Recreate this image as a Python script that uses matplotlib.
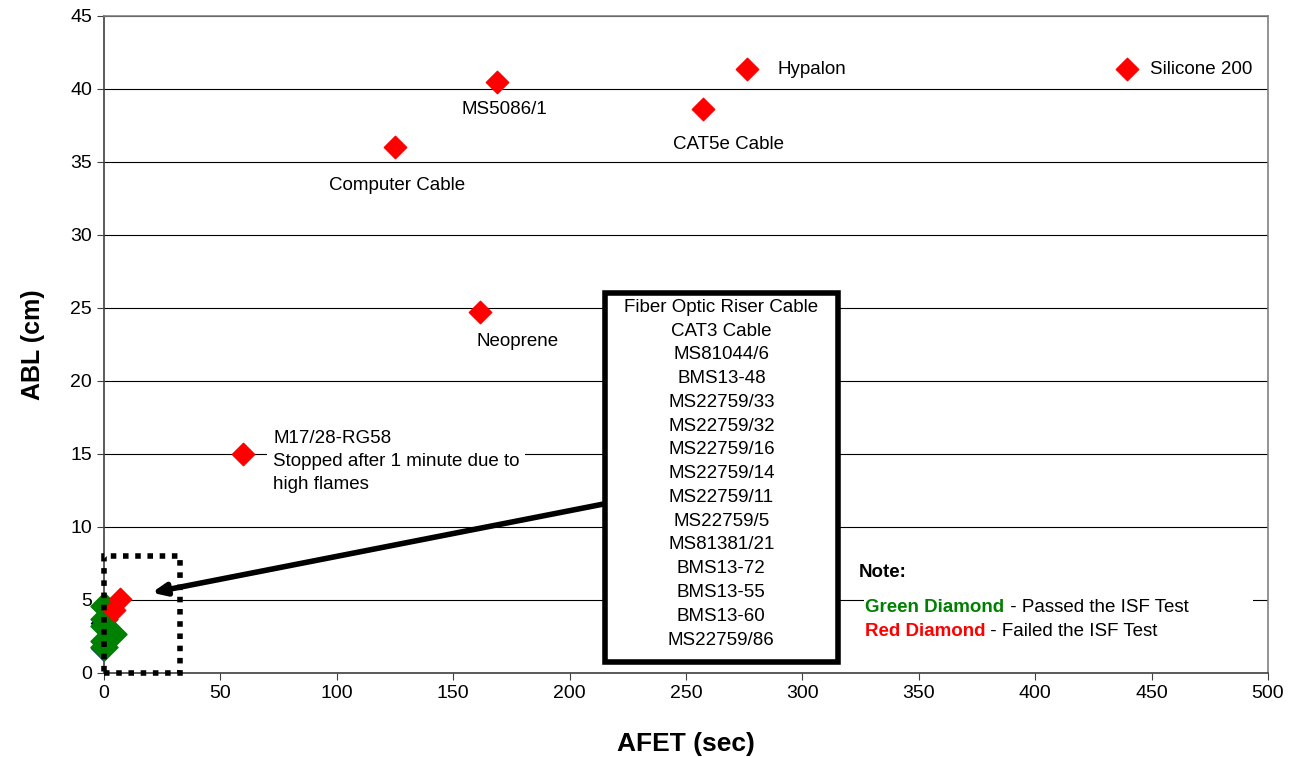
import matplotlib.pyplot as plt
from matplotlib.patches import Rectangle

plt.rcParams['font.family'] = ['Liberation Sans', 'DejaVu Sans']

# failed materials (red), with their labels
failed_x = [439.4, 276.2, 168.8, 257.3, 125.0, 161.5, 59.7, 6.8, 4.5]
failed_y = [41.4, 41.4, 40.5, 38.6, 36.0, 24.7, 15.0, 5.1, 4.3]

# passed materials (green), all clustered near the origin
passed_x = [0.0, 0.0, 0.0, 4.0, 0.0, 0.0]
passed_y = [4.6, 3.7, 3.2, 2.7, 2.2, 1.8]

# underlying series hidden behind the green points
base_x = [-0.5, 0.0, -0.5]
base_y = [3.4, 2.1, 1.7]

labels = ['Silicone 200', 'Hypalon', 'MS5086/1', 'CAT5e Cable', 'Computer Cable',
          'Neoprene', 'M17/28-RG58\nStopped after 1 minute due to\nhigh flames']
label_x = [449.3, 289.1, 153.4, 244.4, 96.6, 159.8, 72.6]
label_y = [41.3, 41.3, 38.6, 36.2, 33.4, 22.7, 14.5]

passed_list = ['Fiber Optic Riser Cable', 'CAT3 Cable', 'MS81044/6', 'BMS13-48',
               'MS22759/33', 'MS22759/32', 'MS22759/16', 'MS22759/14',
               'MS22759/11', 'MS22759/5', 'MS81381/21', 'BMS13-72',
               'BMS13-55', 'BMS13-60', 'MS22759/86']

fig = plt.figure(figsize=(12.92, 7.57), dpi=100)
ax = fig.add_axes([0.0805, 0.111, 0.9009, 0.8679])

ax.set_xlim(0, 500)
ax.set_ylim(0, 45)
ax.set_xticks(range(0, 501, 50))
ax.set_yticks(range(0, 46, 5))
ax.yaxis.grid(True, color='black', linewidth=0.8, zorder=0)
ax.set_axisbelow(True)
for s in ax.spines.values():
    s.set_color('#808080')
    s.set_linewidth(1.2)
ax.spines['left'].set_color('#404040')
ax.spines['bottom'].set_color('#404040')
ax.tick_params(axis='both', labelsize=14, direction='out', length=5, color='#404040')

ax.set_xlabel('AFET (sec)', fontsize=19, fontweight='bold', labelpad=22)
ax.set_ylabel('ABL (cm)', fontsize=18, fontweight='bold', labelpad=18)

ax.scatter(base_x, base_y, marker='D', s=150, color='#000080', zorder=3, clip_on=False)
ax.scatter(passed_x, passed_y, marker='D', s=190, color='#008000', zorder=4, clip_on=False)
ax.scatter(failed_x, failed_y, marker='D', s=130, color='#ff0000', zorder=5, clip_on=False)

for t, x, y in zip(labels, label_x, label_y):
    ax.text(x, y, t, fontsize=13.5, ha='left', va='center', zorder=6,
            linespacing=1.45,
            bbox=dict(facecolor='white', edgecolor='none', pad=4))

# dotted box around the cluster of small values
ax.add_patch(Rectangle((0, 0), 32.5, 8, fill=False, edgecolor='black',
                       linestyle=(0, (1, 1.2)), linewidth=4, zorder=7, clip_on=False))

# list of materials that passed, pointing at the cluster
ax.annotate('', xy=(20.5, 5.5), xytext=(215.5, 11.6), zorder=7,
            arrowprops=dict(arrowstyle='-|>,head_length=0.8,head_width=0.35',
                            color='black', linewidth=4, shrinkA=0, shrinkB=0))
ax.add_patch(Rectangle((215, 0.75), 100.5, 25.25, facecolor='white', edgecolor='black',
                       linewidth=4, zorder=8))
ax.text(265.2, 13.65, '\n'.join(passed_list), fontsize=13.5, ha='center', va='center',
        linespacing=1.52, zorder=9)

# note panel
ax.add_patch(Rectangle((326.5, 1.6), 167, 5.8, facecolor='white', edgecolor='none', zorder=6))
ax.text(324, 6.9, 'Note:', fontsize=13.5, fontweight='bold', ha='left', va='center', zorder=7)
ax.text(327, 4.5, 'Green Diamond', fontsize=13.5, fontweight='bold', color='#008000',
        ha='left', va='center', zorder=7)
ax.text(387, 4.5, ' - Passed the ISF Test', fontsize=13.5, ha='left', va='center', zorder=7)
ax.text(327, 2.85, 'Red Diamond', fontsize=13.5, fontweight='bold', color='#ff0000',
        ha='left', va='center', zorder=7)
ax.text(378.5, 2.85, ' - Failed the ISF Test', fontsize=13.5, ha='left', va='center', zorder=7)

fig.savefig('out.png', dpi=100)
